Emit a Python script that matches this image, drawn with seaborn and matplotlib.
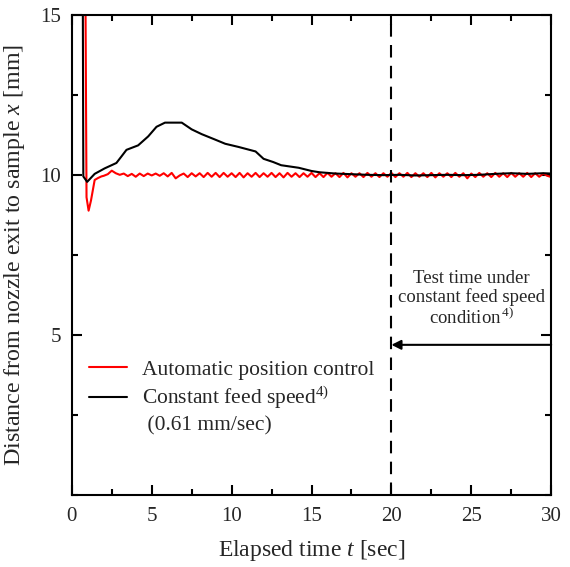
import numpy as np
import pandas as pd
import seaborn as sns
import matplotlib.pyplot as plt
from matplotlib.lines import Line2D
from matplotlib.ticker import MultipleLocator

# red: automatic position control
red_t0 = [0.85, 0.86, 0.92, 1.05, 1.2, 1.43, 1.64, 1.85]
red_x0 = [16.0, 15.0, 9.3, 8.88, 9.2, 9.84, 9.9, 9.95]
# oscillating part, sampled every 0.25 sec from 2.0 to 30.0
red_osc = [
    9.97, 10.02, 10.13, 10.05, 10.00, 10.04, 9.96, 10.03,
    9.94, 10.04, 9.96, 10.04, 9.98, 10.04, 9.97, 10.05,
    9.95, 10.06, 9.89, 9.98, 10.04, 9.93, 10.05, 9.95,
    10.05, 9.93, 10.06, 9.94, 10.06, 9.93, 10.06, 9.94,
    10.05, 9.93, 10.06, 9.92, 10.05, 9.94, 10.06, 9.93,
    10.05, 9.94, 10.06, 9.93, 10.05, 9.92, 10.06, 9.94,
    10.05, 9.93, 10.05, 9.94, 10.06, 9.93, 10.05, 9.93,
    10.06, 9.94, 10.05, 9.93, 10.06, 9.92, 10.05, 9.94,
    10.05, 9.93, 10.06, 9.94, 10.05, 9.93, 10.05, 9.94,
    10.06, 9.93, 10.05, 9.94, 10.06, 9.93, 10.05, 9.94,
    10.05, 9.93, 10.06, 9.92, 10.05, 9.94, 10.05, 9.93,
    10.06, 9.94, 10.05, 9.89, 10.04, 9.93, 10.06, 9.94,
    10.05, 9.93, 10.06, 9.94, 10.05, 9.93, 10.06, 9.94,
    10.05, 9.94, 10.06, 9.93, 10.05, 9.94, 10.04, 9.97,
    9.93,
]

# black: constant feed speed
blk_t = [0.68, 0.69, 0.72, 0.96, 1.43, 2.05, 2.79, 3.1, 3.42, 4.15, 4.78, 5.3,
         5.83, 6.88, 7.5, 8.13, 8.97, 9.6, 10.44, 11.5, 12.0, 12.6, 13.1,
         14.2, 15.0, 15.5, 16.5, 17.5, 18.5, 19.5, 20.5, 21.5, 22.5, 23.5,
         24.5, 25.5, 26.5, 27.5, 28.5, 29.5, 30.0]
blk_x = [16.0, 15.0, 9.95, 9.78, 10.03, 10.2, 10.37, 10.57, 10.78, 10.92,
         11.2, 11.5, 11.63, 11.63, 11.42, 11.27, 11.1, 10.97, 10.87, 10.73,
         10.5, 10.4, 10.3, 10.22, 10.12, 10.08, 10.04, 10.02, 10.0, 9.99,
         10.0, 9.98, 9.99, 10.0, 9.99, 10.0, 10.03, 10.05, 10.03, 10.05, 10.04]

red_t = red_t0 + list(np.arange(2.0, 30.001, 0.25))
red_x = red_x0 + red_osc

df = pd.concat([
    pd.DataFrame({"t": red_t, "x": red_x, "series": "auto"}),
    pd.DataFrame({"t": blk_t, "x": blk_x, "series": "const"}),
], ignore_index=True)

sns.set_style("ticks")
plt.rcParams["font.family"] = ["Liberation Serif", "DejaVu Serif"]
plt.rcParams["mathtext.fontset"] = "custom"
plt.rcParams["mathtext.rm"] = "Liberation Serif"
plt.rcParams["mathtext.it"] = "Liberation Serif:italic"

fig = plt.figure(figsize=(5.7, 5.67), dpi=100)
ax = fig.add_axes([0.126, 0.127, 0.841, 0.847])

palette = {"auto": "#ff0000", "const": "#000000"}
sns.lineplot(data=df, x="t", y="x", hue="series", palette=palette, sort=False,
             estimator=None, linewidth=1.5, legend=False, ax=ax)

ax.set_xlim(0, 30)
ax.set_ylim(0, 15)
ax.xaxis.set_major_locator(MultipleLocator(5))
ax.xaxis.set_minor_locator(MultipleLocator(2.5))
ax.yaxis.set_major_locator(MultipleLocator(5))
ax.yaxis.set_minor_locator(MultipleLocator(2.5))
ax.set_yticks([5, 10, 15])
ax.tick_params(which="both", direction="in", top=True, right=True,
               labelsize=15, width=1.5, color="black")
ax.tick_params(which="major", length=7)
ax.tick_params(which="minor", length=4)
ax.tick_params(axis="x", pad=9)
ax.tick_params(axis="y", pad=8)
for s in ax.spines.values():
    s.set_linewidth(1.5)
    s.set_color("black")

ax.set_xlabel("Elapsed time $t$ [sec]", fontsize=17, labelpad=8)
ax.set_ylabel("Distance from nozzle exit to sample $x$ [mm]", fontsize=17.3, labelpad=9)

# test time marker
ax.axvline(20, color="black", linestyle=(0, (6, 4)), linewidth=1.5)
ax.annotate("", xy=(20, 4.69), xytext=(30, 4.69),
            arrowprops=dict(arrowstyle="-|>", color="black", lw=1.5,
                            mutation_scale=14, shrinkA=0, shrinkB=0))
ax.text(25, 6.12, "Test time under\nconstant feed speed\ncondition$^{\\,4)}$",
        ha="center", va="center", fontsize=13.5, linespacing=1.1)

handles = [Line2D([], [], color="#ff0000", lw=1.5),
           Line2D([], [], color="black", lw=1.5),
           Line2D([], [], color="none", lw=0)]
labels = ["Automatic position control", "Constant feed speed$^{4)}$",
          " (0.61 mm/sec)"]
ax.legend(handles, labels, loc="upper left", bbox_to_anchor=(0.005, 0.313),
          frameon=False, fontsize=15.5, handlelength=1.75, handletextpad=0.7,
          labelspacing=0.22, borderaxespad=0.3)

plt.savefig("out.png", dpi=100)
